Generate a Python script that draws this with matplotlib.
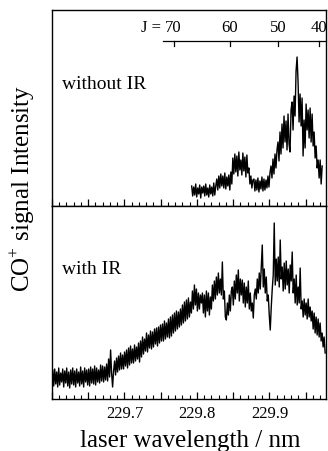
import numpy as np
import matplotlib
matplotlib.use("Agg")
import matplotlib.pyplot as plt
from matplotlib.ticker import MultipleLocator, FuncFormatter
import matplotlib.transforms as mtransforms

plt.rcParams['font.family'] = ['Liberation Serif', 'DejaVu Serif']
plt.rcParams['mathtext.fontset'] = 'custom'
plt.rcParams['mathtext.rm'] = 'Liberation Serif'

# ---------------- data ----------------
top_start, top_end = 229.7927, 229.9727
top_intensity = [
    20, 10, 19, 11, 22, 9, 18, 12, 21, 8, 19, 13, 20, 10, 22, 11, 18, 9, 21, 12, 19, 10, 23, 11, 20,
    27, 16, 30, 18, 32, 20,
    30, 18, 33, 17, 29, 20, 31, 16, 34, 22,
    48, 32, 52, 34, 50, 30, 54, 36, 46, 31, 53, 35, 49, 29, 51, 33,
    38, 22, 30, 18, 26,
    27, 15, 26, 16, 28, 14, 25, 17, 29, 15, 27, 16, 26, 18, 30, 19, 33,
    40, 28, 47, 32, 52, 38, 56,
    64, 45, 74, 52, 82, 58, 90, 64,
    85, 56, 92, 62, 54, 96,
    104, 76, 110, 90, 135, 149,
    124, 84, 112, 80, 108,
    50, 86, 58, 102, 76,
    96, 68, 98, 64, 92, 60,
    74, 48, 60, 38, 46,
    28, 46, 22, 40,
]

bot_start, bot_end = 229.601, 229.9768
bot_intensity = [
    29, 13, 30, 15, 27, 12, 31, 14, 26, 17,
    30, 12, 28, 16, 31, 13, 27, 11, 29, 15,
    31, 14, 28, 12, 30, 16, 27, 13, 32, 15,
    28, 12, 31, 17, 29, 14, 30, 13, 32, 16,
    30, 15, 33, 14, 31, 17, 29, 16, 34, 18,
    33, 17, 32, 19, 35, 18, 40, 22, 49, 26,
    12, 28, 38, 24, 41, 27, 43, 29, 46, 30,
    44, 30, 47, 33, 49, 31, 51, 34, 53, 36,
    50, 36, 54, 38, 52, 40, 56, 37, 58, 42,
    62, 45, 60, 48, 66, 47, 64, 51, 68, 50,
    67, 52, 70, 55, 71, 53, 72, 56, 74, 58,
    75, 58, 78, 60, 76, 62, 80, 61, 82, 63,
    84, 66, 86, 68, 88, 70, 87, 72, 90, 74,
    94, 76, 97, 78, 99, 80, 101, 82, 97, 86,
    108, 90, 114, 94, 110, 88, 106, 90, 104, 96,
    106, 86, 104, 82, 108, 88, 106, 84, 102, 90,
    114, 98, 118, 100, 122, 104, 126, 106, 120, 104,
    137, 100, 108, 82, 79, 96, 84, 104, 88, 108,
    112, 94, 118, 100, 124, 106, 129, 98, 120, 104,
    119, 96, 116, 92, 112, 96, 118, 90, 106, 88,
    96, 81, 104, 110, 100, 120, 106, 126, 110, 132,
    154, 112, 130, 106, 122, 98, 104, 84, 69, 92,
    110, 124, 176, 114, 140, 118, 142, 112, 159, 120,
    132, 108, 136, 110, 138, 114, 130, 106, 134, 118,
    147, 106, 120, 96, 124, 94, 112, 96, 131, 90,
    98, 82, 100, 84, 96, 80, 100, 82, 92, 78,
    88, 70, 86, 66, 82, 64, 80, 62, 76, 58,
    66, 52, 62, 46,
]

top_wl = np.linspace(top_start, top_end, len(top_intensity))
bot_wl = np.linspace(bot_start, bot_end, len(bot_intensity))

J_values = [70, 60, 50, 40]
J_wavelengths = [229.7678, 229.8453, 229.9118, 229.9685]
J_line_start = 229.7526

x_tick_labels = [229.7, 229.8, 229.9]

# ---------------- figure ----------------
W, H = 328, 451
fig = plt.figure(figsize=(W / 100, H / 100), dpi=100)

def px_axes(x0, y0, x1, y1):
    return fig.add_axes([x0 / W, 1 - y1 / H, (x1 - x0) / W, (y1 - y0) / H])

ax_top = px_axes(52, 10, 326, 206)
ax_bot = px_axes(52, 206, 326, 399)

xlim = (229.600, 229.978)
for ax in (ax_top, ax_bot):
    ax.set_xlim(*xlim)
    ax.set_yticks([])
    for s in ax.spines.values():
        s.set_linewidth(1.0)
    ax.xaxis.set_major_locator(MultipleLocator(0.05))
    ax.xaxis.set_minor_locator(MultipleLocator(0.01))
    ax.tick_params(axis='x', which='major', direction='in', length=5, width=0.9, top=False)
    ax.tick_params(axis='x', which='minor', direction='in', length=3, width=0.8, top=False)

ax_top.plot(top_wl, top_intensity, color='black', lw=1.0)
ax_bot.plot(bot_wl, bot_intensity, color='black', lw=1.0)
ax_top.set_ylim(0, 196)
ax_bot.set_ylim(0, 193)

ax_top.tick_params(axis='x', labelbottom=False)
ax_bot.xaxis.set_major_formatter(FuncFormatter(
    lambda v, p: (f"{v:.1f}" if any(abs(v - t) < 1e-6 for t in x_tick_labels) else "")))
ax_bot.tick_params(axis='x', which='major', labelsize=12, pad=5)

# J scale in the top panel
tr = mtransforms.blended_transform_factory(ax_top.transData, ax_top.transAxes)
x_start_frac = (J_line_start - xlim[0]) / (xlim[1] - xlim[0])
y_line = 0.842
ax_top.plot([x_start_frac, 1.0], [y_line, y_line], transform=ax_top.transAxes,
            color='black', lw=0.9, clip_on=False)
for wl, j in zip(J_wavelengths, J_values):
    ax_top.plot([wl, wl], [y_line, y_line - 0.026], transform=tr, color='black', lw=0.9)
    ax_top.text(wl, 0.888, str(j), transform=tr, ha='center', va='baseline', fontsize=12)
ax_top.annotate("J =", xy=(J_wavelengths[0], 0.888), xycoords=tr,
                xytext=(-9, 0), textcoords='offset points',
                ha='right', va='baseline', fontsize=12)

ax_top.text(0.0365, 0.597, "without IR", transform=ax_top.transAxes, fontsize=14,
            ha='left', va='baseline')
ax_bot.text(0.0365, 0.648, "with IR", transform=ax_bot.transAxes, fontsize=14,
            ha='left', va='baseline')

fig.text(22 / W, 1 - 188 / H, "CO$^{+}$ signal Intensity", rotation=90,
         ha='center', va='center', fontsize=18)
fig.text(190 / W, 1 - 447 / H, "laser wavelength / nm", ha='center', va='baseline',
         fontsize=18)

fig.savefig("out.png", dpi=100)
